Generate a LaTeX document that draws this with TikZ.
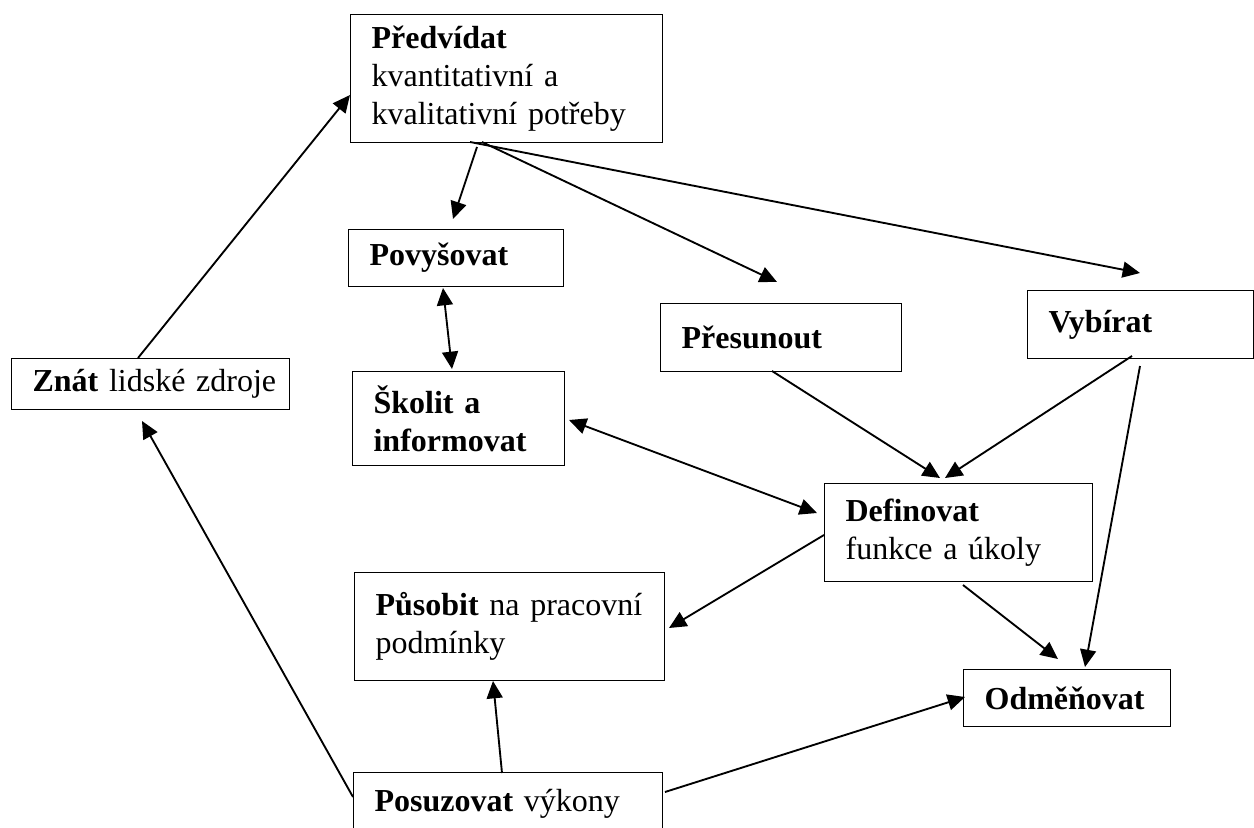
\documentclass[tikz,border=0pt]{standalone}
\usepackage{fontspec}
\setmainfont{Liberation Serif}
\usetikzlibrary{arrows.meta,calc}
\tikzset{
  box/.style={draw, line width=0.9pt, anchor=north west, align=left,
    inner xsep=15.75pt, inner ysep=0pt,
    font=\fontsize{24}{28.5}\selectfont},
  arr/.style={line width=1.4pt, -{Triangle[length=13pt,width=12pt]}},
  darr/.style={line width=1.4pt, {Triangle[length=13pt,width=12pt]}-{Triangle[length=13pt,width=12pt]}}
}
\begin{document}
\begin{tikzpicture}[x=0.75pt,y=-0.75pt]
\clip (0,0) rectangle (1254,828);
\fill[white] (0,0) rectangle (1254,828);

\node[box, text width=202.5pt, minimum height=96pt] (pred) at (350,14)
  {\mbox{\textbf{Předvídat}}\\\mbox{kvantitativní a}\\\mbox{kvalitativní potřeby}};
\node[box, text width=177pt, minimum height=38.25pt] (znat) at (11,358)
  {\mbox{\textbf{Znát} lidské zdroje}};
\node[box, text width=129.75pt, minimum height=42.75pt] (povy) at (348,229)
  {\mbox{\textbf{Povyšovat}}};
\node[box, text width=127.5pt, minimum height=70.5pt] (skol) at (352,371)
  {\mbox{\textbf{Školit a}}\\\mbox{\textbf{informovat}}};
\node[box, text width=149.25pt, minimum height=51pt] (pres) at (660,303)
  {\mbox{\textbf{Přesunout}}};
\node[box, text width=138pt, minimum height=51pt] (vyb) at (1027,290)
  {\mbox{\textbf{Vybírat}}};
\node[box, text width=169.5pt, minimum height=73.5pt] (def) at (824,483)
  {\mbox{\textbf{Definovat}}\\\mbox{funkce a úkoly}};
\node[box, text width=201pt, minimum height=81pt] (pus) at (354,572)
  {\mbox{\textbf{Působit} na pracovní}\\\mbox{podmínky}};
\node[box, text width=123.75pt, minimum height=42.75pt] (odm) at (963,669)
  {\mbox{\textbf{Odměňovat}}};
\node[box, text width=200.25pt, minimum height=46.5pt] (pos) at (353,772)
  {\mbox{\textbf{Posuzovat} výkony}};

% connectors
\draw[arr] ($(znat.north west)+(127,0)$) -- ($(pred.north west)+(0,81)$);
\draw[arr] ($(pos.north west)+(0,25)$) -- ($(znat.north west)+(131,63)$);
\draw[arr] ($(pred.north west)+(127,133)$) -- ($(povy.north west)+(105,-10)$);
\draw[arr] ($(pred.north west)+(132,128)$) -- ($(pres.north west)+(117,-21)$);
\draw[arr] ($(pred.north west)+(120,128)$) -- ($(vyb.north west)+(113,-17)$);
\draw[darr] ($(povy.north west)+(95,59)$) -- ($(skol.north west)+(100,-2)$);
\draw[darr] ($(skol.north west)+(217,49)$) -- ($(def.north west)+(-7,30)$);
\draw[arr] ($(pres.north west)+(112,68)$) -- ($(def.north west)+(116,-5)$);
\draw[arr] ($(vyb.north west)+(105,66)$) -- ($(def.north west)+(121,-5)$);
\draw[arr] ($(vyb.north west)+(113,76)$) -- ($(odm.north west)+(122,-2)$);
\draw[arr] ($(def.north west)+(0,52)$) -- ($(pus.north west)+(315,56)$);
\draw[arr] ($(def.north west)+(139,102)$) -- ($(odm.north west)+(95,-10)$);
\draw[arr] ($(pos.north west)+(149,1)$) -- ($(pus.north west)+(139,109)$);
\draw[arr] ($(pos.north west)+(312,20)$) -- ($(odm.north west)+(2,28)$);
\end{tikzpicture}
\end{document}
